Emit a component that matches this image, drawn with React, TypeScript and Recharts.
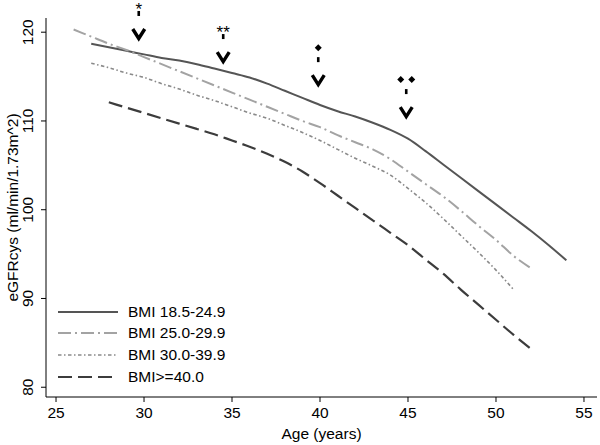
import { ComposedChart, Line, Scatter, XAxis, YAxis, Legend } from 'recharts';

const ages = [26, 27, 28, 29, 30, 31, 32, 33, 34, 35, 36, 37, 38, 39, 40, 41, 42, 43, 44, 45, 46, 47, 48, 49, 50, 51, 52, 53, 54];

const bmiNormal = [null, 118.7, 118.3, 117.9, 117.5, 117.1, 116.8, 116.4, 115.9, 115.4, 114.9, 114.2, 113.4, 112.6, 111.8, 111.1, 110.5, 109.8, 109.0, 108.0, 106.6, 105.1, 103.6, 102.1, 100.6, 99.1, 97.6, 96.0, 94.3];
const bmiOver = [120.3, 119.5, 118.7, 118.0, 117.2, 116.4, 115.6, 114.8, 114.0, 113.2, 112.4, 111.6, 110.8, 110.0, 109.3, 108.4, 107.6, 106.8, 105.7, 104.3, 102.9, 101.5, 99.9, 98.2, 96.6, 94.8, 93.4, null, null];
const bmiObese = [null, 116.5, 116.0, 115.4, 114.9, 114.2, 113.6, 112.9, 112.3, 111.6, 110.9, 110.3, 109.5, 108.7, 107.8, 106.8, 105.8, 104.9, 103.9, 102.4, 100.8, 99.0, 97.1, 95.2, 93.2, 91.0, null, null, null];
const bmiSevere = [null, null, 112.1, 111.5, 110.9, 110.3, 109.7, 109.1, 108.5, 107.8, 107.1, 106.3, 105.4, 104.3, 103.0, 101.6, 100.2, 98.8, 97.4, 96.0, 94.4, 92.8, 91.0, 89.3, 87.6, 85.9, 84.3, null, null];

const markAges = [29.7, 34.5, 39.9, 44.9];
const markLevels = [119.8, 117.2, 114.6, 111.0];
const markLabels = ['*', '**', '◆', '◆◆'];

const xTicks = [25, 30, 35, 40, 45, 50, 55];
const yTicks = [80, 90, 100, 110, 120];

const font = '"Liberation Sans", Arial, Helvetica, sans-serif';

const series = [
  { key: 'normal', name: 'BMI 18.5-24.9', color: '#555555', width: 2, dash: undefined },
  { key: 'over', name: 'BMI 25.0-29.9', color: '#a3a3a3', width: 2, dash: '13 4 2 4' },
  { key: 'obese', name: 'BMI 30.0-39.9', color: '#8a8a8a', width: 1.6, dash: '3.5 2.5 1.5 2.5' },
  { key: 'severe', name: 'BMI>=40.0', color: '#3c3c3c', width: 2.2, dash: '14 6' },
];

const data = ages.map((age, i) => ({
  age,
  normal: bmiNormal[i],
  over: bmiOver[i],
  obese: bmiObese[i],
  severe: bmiSevere[i],
}));

const marks = markAges.map((age, i) => ({ age, level: markLevels[i], label: markLabels[i] }));

const MarkShape = (props: any) => {
  const { cx, cy, payload } = props;
  const label: string = payload.label;
  const isDiamond = label.startsWith('◆');
  return (
    <g>
      <path d={`M${cx - 6},${cy - 5} L${cx},${cy + 4.5} L${cx + 6},${cy - 5}`} fill="none" stroke="#000" strokeWidth={3.4} />
      <rect x={cx - 1.3} y={cy - 23} width={2.6} height={5} fill="#000" />
      {isDiamond ? (
        label.length === 1 ? (
          <polygon points={`${cx},${cy - 36} ${cx + 3.5},${cy - 32.5} ${cx},${cy - 29} ${cx - 3.5},${cy - 32.5}`} fill="#000" />
        ) : (
          <g>
            <polygon points={`${cx - 5.5},${cy - 36} ${cx - 2},${cy - 32.5} ${cx - 5.5},${cy - 29} ${cx - 9},${cy - 32.5}`} fill="#000" />
            <polygon points={`${cx + 5.5},${cy - 36} ${cx + 9},${cy - 32.5} ${cx + 5.5},${cy - 29} ${cx + 2},${cy - 32.5}`} fill="#000" />
          </g>
        )
      ) : (
        <text x={cx} y={cy - 19} textAnchor="middle" fontSize={17} fontFamily={font} fill="#000">
          {label}
        </text>
      )}
    </g>
  );
};

const YTick = (props: any) => {
  const { x, y, payload } = props;
  return (
    <text x={x - 5.5} y={y} transform={`rotate(-90 ${x - 5.5} ${y})`} textAnchor="middle" fontSize={15.5} fontFamily={font} fill="#000">
      {payload.value}
    </text>
  );
};

const XTick = (props: any) => {
  const { x, y, payload } = props;
  return (
    <text x={x} y={y + 14} textAnchor="middle" fontSize={15.5} fontFamily={font} fill="#000">
      {payload.value}
    </text>
  );
};

const LegendBox = () => (
  <div style={{ fontFamily: font, fontSize: 15.5, color: '#000' }}>
    {series.map((s) => (
      <div key={s.key} style={{ display: 'flex', alignItems: 'center', height: 21.6 }}>
        <svg width={70} height={8} style={{ display: 'block' }}>
          <line x1={0} y1={4} x2={60} y2={4} stroke={s.color} strokeWidth={s.width} strokeDasharray={s.dash} />
        </svg>
        <span>{s.name}</span>
      </div>
    ))}
  </div>
);

export default function App() {
  return (
    <div style={{ position: 'absolute', left: 0, top: 0, background: '#fff' }}>
      <ComposedChart width={600} height={445} data={data} margin={{ top: 18, right: 3, bottom: 0, left: 0 }}>
        <XAxis
          dataKey="age"
          type="number"
          domain={[24.43, 55.74]}
          ticks={xTicks}
          height={48}
          tick={<XTick />}
          tickSize={5}
          stroke="#000"
          tickLine={{ stroke: '#000' }}
          label={{ value: 'Age (years)', position: 'insideBottom', offset: 6, fontSize: 15.5, fontFamily: font, fill: '#000' }}
        />
        <YAxis
          type="number"
          domain={[78.9, 121.6]}
          ticks={yTicks}
          width={46}
          tick={<YTick />}
          tickSize={5}
          stroke="#000"
          tickLine={{ stroke: '#000' }}
          label={{ value: 'eGFRcys (ml/min/1.73m^2)', angle: -90, position: 'insideLeft', offset: 12, fontSize: 15.5, fontFamily: font, fill: '#000', style: { textAnchor: 'middle' } }}
        />
        {series.map((s) => (
          <Line
            key={s.key}
            dataKey={s.key}
            name={s.name}
            type="monotone"
            stroke={s.color}
            strokeWidth={s.width}
            strokeDasharray={s.dash}
            dot={false}
            activeDot={false}
            isAnimationActive={false}
          />
        ))}
        <Scatter data={marks} dataKey="level" shape={<MarkShape />} isAnimationActive={false} legendType="none" />
        <Legend
          layout="horizontal"
          verticalAlign="middle"
          align="center"
          content={<LegendBox />}
          wrapperStyle={{ position: 'absolute', left: 58, top: 301, width: 'auto' }}
        />
      </ComposedChart>
    </div>
  );
}
